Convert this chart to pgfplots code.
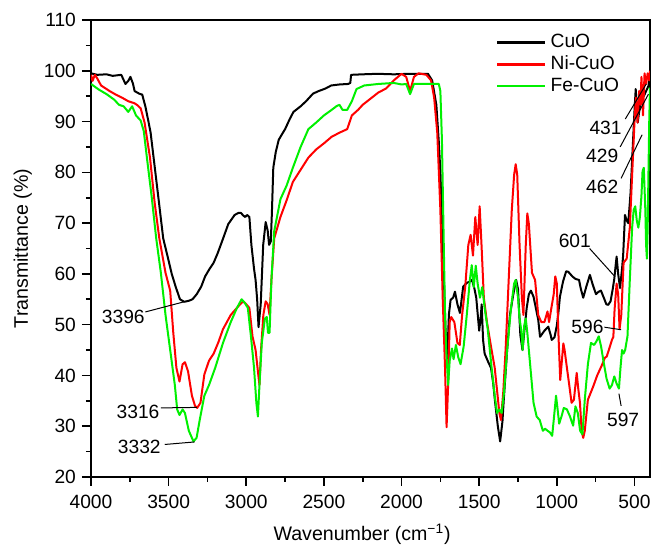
\documentclass[border=0pt]{standalone}
\usepackage{pgfplots}
\pgfplotsset{compat=1.18}
\usepackage{fontspec}
\setmainfont{Liberation Sans}
\definecolor{cred}{RGB}{255,0,0}
\definecolor{cgreen}{RGB}{0,240,0}
\begin{document}
\begin{tikzpicture}
\begin{axis}[
 scale only axis, width=279.5pt, height=228.5pt,
 x dir=reverse, xmin=400, xmax=4000, ymin=20, ymax=110,
 xtick={500,1000,...,4000}, minor x tick num=1,
 ytick={20,30,...,110}, minor y tick num=1,
 tick align=outside, tick pos=left,
 major tick length=4.5pt, minor tick length=2.5pt,
 axis line style={line width=1pt},
 every tick/.style={black, line width=0.8pt},
 /pgf/number format/1000 sep={}, /pgf/number format/assume math mode=true,
 ticklabel style={font=\fontsize{9.6}{11}\selectfont},
 xticklabel style={yshift=-0.8pt},
 yticklabel style={xshift=0.5pt},
 xlabel={Wavenumber (cm\textsuperscript{−1})},
 ylabel={Transmittance (\%)},
 label style={font=\fontsize{9.8}{11}\selectfont},
 xlabel style={at={(axis description cs:0.485,-0.125)}, anchor=center},
 ylabel style={at={(axis description cs:-0.122,0.5)}, anchor=center},
 legend style={at={(axis description cs:0.724,0.978)}, anchor=north west, draw=none, fill=none,
   font=\fontsize{9.6}{11}\selectfont, inner sep=0pt, row sep=-1.5pt},
 legend cell align=left,
 legend image code/.code={\draw[#1, line width=1.3pt] (0pt,0pt) -- (24pt,0pt);},
 every axis plot/.append style={line width=1pt, line join=round},
]
\addplot[black] table {
4000 99.5
3960 99.2
3900 99.3
3860 99.0
3805 99.2
3778 97.4
3760 98.0
3746 98.8
3730 97.5
3719 96.0
3690 95.5
3670 95.3
3650 93.0
3630 90.0
3616 87.8
3589 80.9
3562 74.0
3535 67.0
3508 63.6
3480 60.0
3454 57.4
3427 55.0
3400 54.5
3370 54.7
3346 55.0
3319 56.0
3290 57.5
3265 59.5
3240 60.8
3210 62.2
3185 64.0
3156 66.4
3116 69.8
3075 71.6
3050 72.0
3034 72.0
3020 71.5
3007 71.2
2995 71.6
2980 71.2
2967 65.7
2950 61.0
2940 58.8
2930 55.0
2921 49.5
2907 54.0
2891 65.7
2875 70.2
2862 68.5
2853 65.7
2842 66.4
2835 72.0
2826 80.9
2810 84.0
2791 86.4
2770 87.5
2750 88.5
2720 90.5
2696 91.9
2650 93.0
2615 94.0
2570 95.5
2534 96.0
2490 96.5
2453 97.1
2400 97.3
2344 97.4
2330 97.6
2325 99.2
2250 99.3
2155 99.4
2050 99.3
1950 99.4
1870 99.4
1830 99.4
1803 98.1
1776 93.3
1760 86.0
1749 79.5
1727 58.8
1716 48.4
1706 43.0
1695 52.0
1684 54.9
1668 55.3
1656 56.5
1640 54.0
1624 52.3
1603 57.5
1581 58.2
1560 58.5
1546 58.8
1530 57.0
1519 55.3
1500 48.8
1490 51.5
1484 54.0
1475 47.0
1465 44.3
1440 42.5
1424 41.5
1410 38.5
1397 34.6
1380 30.0
1365 27.0
1350 31.0
1343 34.6
1320 45.0
1302 51.9
1280 56.0
1262 58.8
1250 57.0
1235 48.0
1221 45.0
1205 50.0
1194 53.3
1180 56.0
1167 56.7
1150 55.5
1140 54.0
1120 51.0
1108 47.6
1080 48.8
1055 49.6
1040 48.0
1033 47.0
1015 47.5
1000 49.8
991 52.0
980 55.5
960 58.5
940 60.5
926 60.4
900 59.5
880 59.0
857 58.8
845 57.0
830 55.3
810 57.5
787 59.8
770 58.0
748 56.0
730 56.5
716 56.7
700 55.5
681 54.0
669 53.9
654 54.6
640 57.0
630 59.0
620 62.0
615 63.4
605 60.0
593 57.2
580 61.0
573 63.6
561 71.6
550 70.5
540 70.0
525 76.0
511 85.0
500 92.0
492 96.4
485 93.0
479 89.8
465 93.0
452 95.4
440 95.0
425 96.0
410 97.0
400 99.2
};
\addlegendentry{CuO}
\addplot[cred] table {
4000 99.2
3990 98.0
3975 99.2
3960 98.5
3935 97.1
3880 96.0
3840 95.3
3800 94.7
3760 94.0
3720 93.6
3700 93.2
3680 92.6
3655 89.8
3620 82.9
3590 74.0
3560 67.0
3520 60.2
3490 56.7
3470 48.4
3450 41.5
3430 38.8
3410 42.2
3395 42.6
3375 40.8
3350 36.0
3330 34.0
3316 33.6
3295 34.6
3270 40.2
3240 42.9
3210 44.3
3180 46.5
3150 49.1
3100 51.9
3040 54.0
3020 54.6
3000 54.0
2980 53.3
2960 47.7
2940 45.0
2925 40.8
2915 38.1
2905 45.0
2890 51.9
2875 54.6
2862 54.0
2850 51.9
2838 58.8
2820 67.0
2780 71.2
2740 74.5
2700 78.1
2650 80.5
2600 82.9
2550 84.5
2500 85.7
2450 87.0
2400 87.8
2350 88.5
2320 91.2
2280 92.3
2250 93.3
2200 94.5
2150 95.7
2100 96.5
2050 98.1
2000 99.4
1970 98.8
1945 96.0
1920 98.8
1890 99.5
1840 99.2
1810 98.1
1790 94.7
1770 87.8
1750 72.6
1735 55.3
1720 41.5
1710 29.8
1700 38.1
1690 50.5
1680 51.5
1660 50.5
1640 46.4
1625 46.0
1610 51.9
1590 57.4
1570 65.7
1555 67.7
1540 63.6
1525 71.2
1510 65.7
1497 73.3
1485 65.7
1470 55.3
1450 50.5
1420 45.0
1400 41.5
1370 32.6
1360 31.2
1345 36.7
1330 45.0
1310 58.8
1290 72.6
1275 79.5
1265 81.6
1255 79.5
1240 65.7
1225 55.3
1215 51.9
1200 65.7
1190 71.9
1180 69.8
1160 60.2
1140 58.8
1120 51.9
1100 50.5
1080 50.5
1060 52.6
1050 50.5
1035 53.3
1020 56.0
1010 59.5
1000 58.1
990 48.4
978 39.1
958 46.3
950 45.0
935 41.5
920 38.1
905 34.6
890 35.2
872 40.5
862 37.4
851 34.6
840 29.0
830 27.7
820 29.1
800 35.2
766 37.8
740 40.0
710 42.0
690 43.5
679 43.7
660 45.5
645 47.0
636 47.6
628 53.0
615 58.1
605 56.0
596 49.1
585 51.9
570 62.2
550 63.0
530 69.1
515 79.5
500 89.8
490 94.7
480 89.8
470 96.0
462 93.3
455 98.8
445 91.2
435 99.5
425 97.4
415 99.5
405 98.1
400 100
};
\addlegendentry{Ni-CuO}
\addplot[cgreen] table {
4000 97.4
3950 96.3
3900 95.4
3850 94.3
3820 93.3
3790 93.0
3760 91.9
3735 93.0
3710 91.2
3680 90.2
3660 88.1
3640 82.9
3610 75.4
3580 67.0
3550 60.2
3520 51.9
3490 45.0
3460 38.1
3445 33.3
3430 32.2
3410 33.3
3395 32.6
3370 29.1
3340 27.0
3320 27.7
3300 31.2
3270 36.0
3240 38.1
3200 41.5
3150 46.4
3100 50.5
3060 53.3
3030 55.0
3010 54.3
2990 53.3
2970 47.7
2950 41.5
2935 34.6
2925 31.9
2915 38.1
2900 46.4
2880 51.2
2868 51.5
2860 48.4
2850 48.4
2838 58.8
2820 68.4
2780 74.7
2740 77.4
2700 80.9
2650 85.0
2600 88.5
2550 89.8
2500 91.2
2450 92.3
2420 93.0
2400 93.3
2380 92.3
2350 92.3
2320 94.0
2290 96.4
2240 97.1
2150 97.4
2050 97.6
2000 97.3
1970 97.4
1945 95.4
1920 97.4
1850 97.4
1760 97.4
1750 96.0
1740 86.4
1730 69.1
1720 51.9
1712 45.0
1700 38.1
1690 42.9
1675 45.3
1665 43.2
1650 46.0
1635 43.6
1620 42.2
1600 45.7
1580 51.9
1560 58.8
1548 61.7
1535 57.4
1522 61.6
1510 58.1
1495 55.3
1480 57.4
1465 53.3
1445 49.1
1420 41.5
1400 36.0
1385 32.6
1370 33.3
1355 32.6
1340 36.7
1320 45.0
1295 53.3
1275 58.1
1265 58.8
1250 55.3
1240 51.2
1230 49.1
1220 45.0
1210 49.8
1200 51.2
1190 48.4
1170 41.5
1150 34.6
1130 31.9
1110 31.2
1090 29.1
1075 29.5
1060 29.1
1045 28.8
1030 28.1
1020 31.2
1005 36.0
995 33.3
985 30.5
970 31.9
955 33.6
935 33.3
915 31.9
895 30.1
880 33.9
865 32.6
850 29.1
835 28.4
820 35.2
800 42.2
780 46.4
760 46.0
745 46.7
730 47.7
715 45.7
700 42.9
680 39.4
660 37.4
645 38.1
630 39.8
615 38.4
600 37.4
590 41.5
580 45.0
570 44.3
560 45.0
545 47.7
530 58.8
515 69.1
505 72.6
495 73.3
485 70.5
475 69.1
465 71.2
455 75.4
448 80.2
440 80.9
430 72.6
425 65.7
420 63.0
415 69.1
410 79.5
405 89.8
400 96.7
};
\addlegendentry{Fe-CuO}
% annotations
\begin{scope}[every node/.style={font=\fontsize{9.6}{11}\selectfont, inner sep=1pt}]
\node at (axis cs:3792,51.5) {3396};
\draw[line width=0.5pt] (axis cs:3650,52.5) -- (axis cs:3400,54.5);
\node at (axis cs:3697,32.9) {3316};
\draw[line width=0.5pt] (axis cs:3550,33.6) -- (axis cs:3318,33.7);
\node at (axis cs:3689,26.0) {3332};
\draw[line width=0.5pt] (axis cs:3525,26.4) -- (axis cs:3332,26.9);
\node at (axis cs:884,66.4) {601};
\draw[line width=0.5pt] (axis cs:789,65.0) -- (axis cs:627,59.5);
\node at (axis cs:803,49.5) {596};
\draw[line width=0.5pt] (axis cs:694,49.5) -- (axis cs:586,49.0);
\node at (axis cs:573,31.2) {597};
\draw[line width=0.5pt] (axis cs:586,34.0) -- (axis cs:600,36.4);
\node at (axis cs:686,88.8) {431};
\draw[line width=0.5pt] (axis cs:559,90.5) -- (axis cs:424,97.4);
\node at (axis cs:708,83.3) {429};
\draw[line width=0.5pt] (axis cs:592,85.0) -- (axis cs:410,95.4);
\node at (axis cs:708,77.1) {462};
\draw[line width=0.5pt] (axis cs:586,78.8) -- (axis cs:451,87.4);
\end{scope}
\end{axis}
\pgfresetboundingbox
\path ([shift={(-45.5pt,-35.5pt)}]current axis.south west) rectangle ([shift={(4pt,10pt)}]current axis.north east);
\end{tikzpicture}
\end{document}
